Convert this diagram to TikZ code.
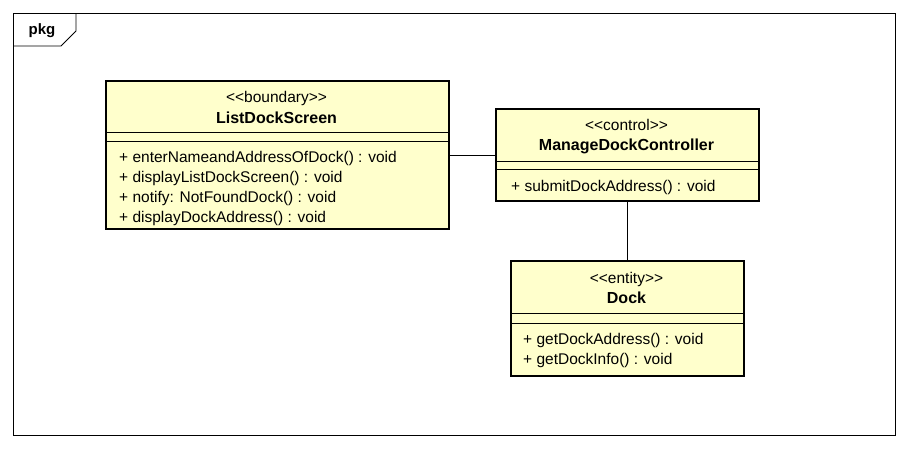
\documentclass[tikz,border=0pt]{standalone}
\usepackage{fontspec}
\setmainfont{Liberation Sans}
\begin{document}
\begin{tikzpicture}[x=1pt,y=-1pt,
  classbox/.style={draw=black,line width=2.2pt,fill=classfill,anchor=north west,inner sep=0pt},
  sep/.style={line width=0.8pt},
  stereo/.style={font=\fontsize{15.5}{17}\selectfont,inner sep=0pt},
  cname/.style={font=\fontsize{16}{18}\selectfont\bfseries,inner sep=0pt},
  member/.style={font=\fontsize{15.5}{17}\selectfont,anchor=west,inner sep=0pt},
  link/.style={line width=0.8pt}]
\definecolor{classfill}{RGB}{255,255,204}
\useasboundingbox (0,0) rectangle (908,448);
\fill[white] (0,0) rectangle (908,448);
% package frame with its name tab
\draw[line width=0.8pt] (13,13) rectangle (895,435);
\draw[line width=0.8pt] (76,13) -- (76,31) -- (61,46) -- (13,46);
\node[font=\fontsize{15}{17}\selectfont\bfseries,inner sep=0pt] (pkg) at (42,31) {pkg};

% boundary class
\node[classbox,minimum width=343pt,minimum height=148pt] (lds) at (105,80) {};
\node[stereo] (ldsS) at (276.5,98) {{<}{<}boundary{>}{>}};
\node[cname] (ldsN) at (276.5,118) {ListDockScreen};
\draw[sep] (105,132) -- (448,132);
\draw[sep] (105,141) -- (448,141);
\node[member] (ldsM1) at (119,158) {+ enterNameandAddressOfDock() : void};
\node[member] (ldsM2) at (119,178) {+ displayListDockScreen() : void};
\node[member] (ldsM3) at (119,198) {+ notify: NotFoundDock() : void};
\node[member] (ldsM4) at (119,218) {+ displayDockAddress() : void};

% control class
\node[classbox,minimum width=263pt,minimum height=92pt] (mdc) at (495,108) {};
\node[stereo] (mdcS) at (626.5,125) {{<}{<}control{>}{>}};
\node[cname] (mdcN) at (626.5,146) {ManageDockController};
\draw[sep] (495,161) -- (758,161);
\draw[sep] (495,169) -- (758,169);
\node[member] (mdcM1) at (511,187) {+ submitDockAddress() : void};

% entity class
\node[classbox,minimum width=233pt,minimum height=115pt] (dock) at (510,260) {};
\node[stereo] (dockS) at (626.5,279) {{<}{<}entity{>}{>}};
\node[cname] (dockN) at (626.5,298) {Dock};
\draw[sep] (510,313) -- (743,313);
\draw[sep] (510,323) -- (743,323);
\node[member] (dockM1) at (523,340) {+ getDockAddress() : void};
\node[member] (dockM2) at (523,360) {+ getDockInfo() : void};

% associations
\draw[link] (lds) -- (mdc);
\draw[link] (mdc) -- (dock);
\end{tikzpicture}
\end{document}
